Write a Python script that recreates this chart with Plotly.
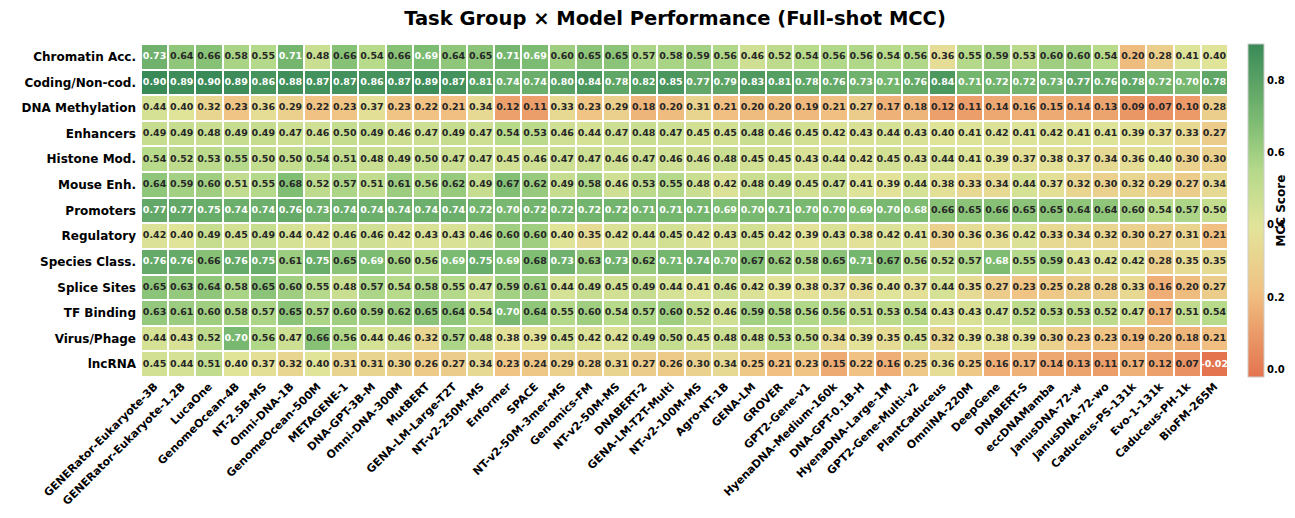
import plotly.graph_objects as go

models = ["GENERator-Eukaryote-3B", "GENERator-Eukaryote-1.2B", "LucaOne", "GenomeOcean-4B", "NT-2.5B-MS",
          "Omni-DNA-1B", "GenomeOcean-500M", "METAGENE-1", "DNA-GPT-3B-M", "Omni-DNA-300M",
          "MutBERT", "GENA-LM-Large-T2T", "NT-v2-250M-MS", "Enformer", "SPACE",
          "NT-v2-50M-3mer-MS", "Genomics-FM", "NT-v2-50M-MS", "DNABERT-2", "GENA-LM-T2T-Multi",
          "NT-v2-100M-MS", "Agro-NT-1B", "GENA-LM", "GROVER", "GPT2-Gene-v1",
          "HyenaDNA-Medium-160k", "DNA-GPT-0.1B-H", "HyenaDNA-Large-1M", "GPT2-Gene-Multi-v2", "PlantCaduceus",
          "OmniNA-220M", "DeepGene", "DNABERT-S", "eccDNAMamba", "JanusDNA-72-w",
          "JanusDNA-72-wo", "Caduceus-PS-131k", "Evo-1-131k", "Caduceus-PH-1k", "BioFM-265M"]

tasks = ["Chromatin Acc.", "Coding/Non-cod.", "DNA Methylation", "Enhancers", "Histone Mod.",
         "Mouse Enh.", "Promoters", "Regulatory", "Species Class.", "Splice Sites",
         "TF Binding", "Virus/Phage", "lncRNA"]

chromatin = [0.73, 0.64, 0.66, 0.58, 0.55, 0.71, 0.48, 0.66, 0.54, 0.66,
             0.69, 0.64, 0.65, 0.71, 0.69, 0.60, 0.65, 0.65, 0.57, 0.58,
             0.59, 0.56, 0.46, 0.52, 0.54, 0.56, 0.56, 0.54, 0.56, 0.36,
             0.55, 0.59, 0.53, 0.60, 0.60, 0.54, 0.20, 0.28, 0.41, 0.40]
coding = [0.90, 0.89, 0.90, 0.89, 0.86, 0.88, 0.87, 0.87, 0.86, 0.87,
          0.89, 0.87, 0.81, 0.74, 0.74, 0.80, 0.84, 0.78, 0.82, 0.85,
          0.77, 0.79, 0.83, 0.81, 0.78, 0.76, 0.73, 0.71, 0.76, 0.84,
          0.71, 0.72, 0.72, 0.73, 0.77, 0.76, 0.78, 0.72, 0.70, 0.78]
methylation = [0.44, 0.40, 0.32, 0.23, 0.36, 0.29, 0.22, 0.23, 0.37, 0.23,
               0.22, 0.21, 0.34, 0.12, 0.11, 0.33, 0.23, 0.29, 0.18, 0.20,
               0.31, 0.21, 0.20, 0.20, 0.19, 0.21, 0.27, 0.17, 0.18, 0.12,
               0.11, 0.14, 0.16, 0.15, 0.14, 0.13, 0.09, 0.07, 0.10, 0.28]
enhancers = [0.49, 0.49, 0.48, 0.49, 0.49, 0.47, 0.46, 0.50, 0.49, 0.46,
             0.47, 0.49, 0.47, 0.54, 0.53, 0.46, 0.44, 0.47, 0.48, 0.47,
             0.45, 0.45, 0.48, 0.46, 0.45, 0.42, 0.43, 0.44, 0.43, 0.40,
             0.41, 0.42, 0.41, 0.42, 0.41, 0.41, 0.39, 0.37, 0.33, 0.27]
histone = [0.54, 0.52, 0.53, 0.55, 0.50, 0.50, 0.54, 0.51, 0.48, 0.49,
           0.50, 0.47, 0.47, 0.45, 0.46, 0.47, 0.47, 0.46, 0.47, 0.46,
           0.46, 0.48, 0.45, 0.45, 0.43, 0.44, 0.42, 0.45, 0.43, 0.44,
           0.41, 0.39, 0.37, 0.38, 0.37, 0.34, 0.36, 0.40, 0.30, 0.30]
mouse = [0.64, 0.59, 0.60, 0.51, 0.55, 0.676, 0.52, 0.57, 0.51, 0.61,
         0.56, 0.62, 0.49, 0.67, 0.62, 0.49, 0.58, 0.46, 0.53, 0.55,
         0.48, 0.42, 0.48, 0.49, 0.45, 0.47, 0.41, 0.39, 0.44, 0.38,
         0.33, 0.34, 0.44, 0.37, 0.32, 0.30, 0.32, 0.29, 0.27, 0.34]
promoters = [0.77, 0.77, 0.75, 0.74, 0.74, 0.76, 0.73, 0.74, 0.74, 0.74,
             0.74, 0.74, 0.72, 0.70, 0.72, 0.72, 0.72, 0.72, 0.71, 0.71,
             0.71, 0.69, 0.70, 0.71, 0.70, 0.70, 0.69, 0.70, 0.684, 0.66,
             0.65, 0.66, 0.65, 0.65, 0.64, 0.64, 0.60, 0.54, 0.57, 0.50]
regulatory = [0.42, 0.40, 0.49, 0.45, 0.49, 0.44, 0.42, 0.46, 0.46, 0.42,
              0.43, 0.43, 0.46, 0.60, 0.60, 0.40, 0.35, 0.42, 0.44, 0.45,
              0.42, 0.43, 0.45, 0.42, 0.39, 0.43, 0.38, 0.42, 0.41, 0.30,
              0.36, 0.36, 0.42, 0.33, 0.34, 0.32, 0.30, 0.27, 0.31, 0.21]
species = [0.76, 0.76, 0.66, 0.76, 0.75, 0.61, 0.75, 0.65, 0.69, 0.60,
           0.56, 0.69, 0.75, 0.69, 0.676, 0.73, 0.63, 0.73, 0.62, 0.71,
           0.74, 0.70, 0.67, 0.62, 0.58, 0.65, 0.71, 0.67, 0.56, 0.52,
           0.57, 0.684, 0.55, 0.59, 0.43, 0.42, 0.42, 0.28, 0.35, 0.35]
splice = [0.65, 0.63, 0.64, 0.58, 0.65, 0.60, 0.55, 0.48, 0.57, 0.54,
          0.58, 0.55, 0.47, 0.59, 0.61, 0.44, 0.49, 0.45, 0.49, 0.44,
          0.41, 0.46, 0.42, 0.39, 0.38, 0.37, 0.36, 0.40, 0.37, 0.44,
          0.35, 0.27, 0.23, 0.25, 0.28, 0.28, 0.33, 0.16, 0.20, 0.27]
tf_binding = [0.63, 0.61, 0.60, 0.58, 0.57, 0.65, 0.57, 0.60, 0.59, 0.62,
              0.65, 0.64, 0.54, 0.70, 0.64, 0.55, 0.60, 0.54, 0.57, 0.60,
              0.52, 0.46, 0.59, 0.58, 0.56, 0.56, 0.51, 0.53, 0.54, 0.43,
              0.43, 0.47, 0.52, 0.53, 0.53, 0.52, 0.47, 0.17, 0.51, 0.54]
virus = [0.44, 0.43, 0.52, 0.70, 0.56, 0.47, 0.66, 0.56, 0.44, 0.46,
         0.32, 0.57, 0.48, 0.38, 0.39, 0.45, 0.42, 0.42, 0.49, 0.50,
         0.45, 0.48, 0.48, 0.53, 0.50, 0.34, 0.39, 0.35, 0.45, 0.32,
         0.39, 0.38, 0.39, 0.30, 0.23, 0.23, 0.19, 0.20, 0.18, 0.21]
lncrna = [0.45, 0.44, 0.51, 0.40, 0.37, 0.32, 0.40, 0.31, 0.31, 0.30,
          0.26, 0.27, 0.34, 0.23, 0.24, 0.29, 0.28, 0.31, 0.27, 0.26,
          0.30, 0.34, 0.25, 0.21, 0.23, 0.15, 0.22, 0.16, 0.25, 0.36,
          0.25, 0.16, 0.17, 0.14, 0.13, 0.11, 0.17, 0.12, 0.07, -0.02]

z = [chromatin, coding, methylation, enhancers, histone, mouse, promoters,
     regulatory, species, splice, tf_binding, virus, lncrna]

zmin, zmax = -0.02, 0.90
colorscale = [
    [0.00, "#e3744f"],
    [0.13, "#eb9a68"],
    [0.26, "#f0c283"],
    [0.45, "#e2e49a"],
    [0.62, "#b5d98a"],
    [0.76, "#7fbd73"],
    [1.00, "#3a8a58"],
]

# plot area (figure px): x 133..1220, y 36..369
L, R, T, B = 133, 75, 36, 149
W, H = 1295, 518
plot_w = W - L - R

fig = go.Figure()
fig.add_trace(go.Heatmap(
    z=z, x=models, y=tasks, zmin=zmin, zmax=zmax, colorscale=colorscale,
    xgap=2, ygap=2, hoverinfo="skip",
    colorbar=dict(
        thickness=16, len=1.0, lenmode="fraction", y=0.5, yanchor="middle",
        x=1.0, xanchor="left", xpad=20, ypad=0,
        tickvals=[0.0, 0.2, 0.4, 0.6, 0.8], ticktext=["<b>0.0</b>", "<b>0.2</b>", "<b>0.4</b>", "<b>0.6</b>", "<b>0.8</b>"],
        tickfont=dict(size=10, family="DejaVu Sans", color="black"),
        ticks="", outlinewidth=1, outlinecolor="#cccccc",
    ),
))

xs, ys, texts, colors = [], [], [], []
for ti, task in enumerate(tasks):
    for mi, model in enumerate(models):
        v = z[ti][mi]
        xs.append(model)
        ys.append(task)
        texts.append(f"{v:.2f}")
        colors.append("white" if (v > 0.68 or v < 0.0) else "#262626")

fig.add_trace(go.Scatter(
    x=xs, y=ys, text=texts, mode="text",
    textfont=dict(size=9.5, family="DejaVu Sans", color=colors, weight="bold"),
    hoverinfo="skip", showlegend=False,
))

fig.add_annotation(
    text="<b>MCC Score</b>", textangle=-90, showarrow=False,
    xref="paper", yref="paper", x=(1272 - L) / plot_w, y=0.5,
    xanchor="center", yanchor="middle",
    font=dict(size=12, family="DejaVu Sans", color="black"),
)

fig.update_layout(
    width=W, height=H,
    paper_bgcolor="white", plot_bgcolor="white",
    margin=dict(l=L, r=R, t=T, b=B, autoexpand=False),
    title=dict(text="<b>Task Group × Model Performance (Full-shot MCC)</b>",
               x=667 / W, xanchor="center", y=1 - 10 / H, yanchor="middle",
               font=dict(size=19.5, family="DejaVu Sans", color="black")),
    xaxis=dict(tickangle=-45, automargin=False, range=[-0.5, len(models) - 0.5],
               tickfont=dict(size=11, family="DejaVu Sans", color="black", weight="bold"),
               showgrid=False, zeroline=False, ticks="", ticklen=3),
    yaxis=dict(automargin=False, range=[len(tasks) - 0.5, -0.5], ticklabelstandoff=4,
               tickfont=dict(size=12, family="DejaVu Sans", color="black", weight="bold"),
               showgrid=False, zeroline=False, ticks="", ticklen=3),
    showlegend=False,
)

fig.write_html("out.html")
